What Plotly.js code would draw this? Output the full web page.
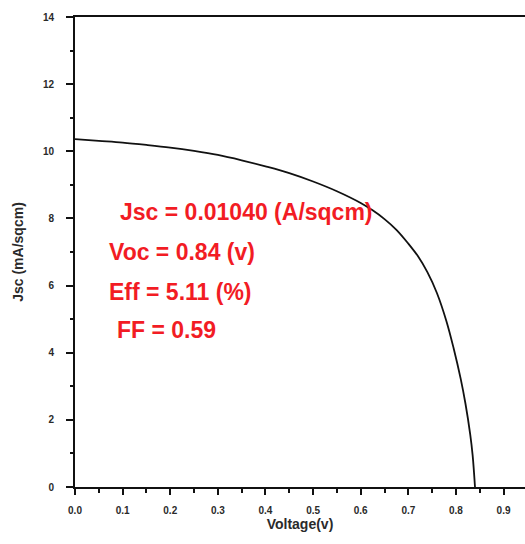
<!DOCTYPE html>
<html>
<head>
<meta charset="utf-8">
<script src="https://cdn.plot.ly/plotly-3.0.1.min.js"></script>
<style>html,body{margin:0;padding:0;background:#fff;}#chart{width:525px;height:544px;}</style>
</head>
<body>
<div id="chart"></div>
<script>
const voltage = [0, 0.05, 0.1, 0.15, 0.2, 0.25, 0.3, 0.35, 0.4, 0.45, 0.5, 0.55, 0.6, 0.625, 0.65, 0.675, 0.7, 0.72, 0.74, 0.76, 0.78, 0.795, 0.81, 0.82, 0.83, 0.835, 0.84];
const jsc = [10.36, 10.31, 10.26, 10.19, 10.11, 10.01, 9.89, 9.73, 9.55, 9.35, 9.10, 8.81, 8.46, 8.24, 7.98, 7.66, 7.25, 6.88, 6.40, 5.78, 4.94, 4.14, 3.22, 2.48, 1.56, 0.95, 0];
const xTicks = [0, 0.1, 0.2, 0.3, 0.4, 0.5, 0.6, 0.7, 0.8, 0.9];
const xTickLabels = ["0.0", "0.1", "0.2", "0.3", "0.4", "0.5", "0.6", "0.7", "0.8", "0.9"];
const yTicks = [0, 2, 4, 6, 8, 10, 12, 14];
const notes = ["Jsc = 0.01040 (A/sqcm)", "Voc = 0.84 (v)", "Eff = 5.11 (%)", "FF = 0.59"];
const noteX = [0.090, 0.068, 0.068, 0.084];
const noteY = [8.18, 7.0, 5.8, 4.67];

const textFont = {family: '"Liberation Sans", Arial, sans-serif', size: 23, color: '#f21c24', weight: 'bold'};
const tickFont = {family: '"Liberation Sans", Arial, sans-serif', size: 10, color: '#2a2a2a', weight: 'bold'};

const trace = {
  x: voltage, y: jsc, type: 'scatter', mode: 'lines',
  line: {color: '#111', width: 1.8, shape: 'spline', smoothing: 1},
  hoverinfo: 'skip'
};

const annotations = notes.map((t, i) => ({
  text: t, x: noteX[i], y: noteY[i], xref: 'x', yref: 'y',
  xanchor: 'left', yanchor: 'middle', showarrow: false, font: textFont
}));

const layout = {
  width: 525, height: 544,
  margin: {l: 75, r: 0, t: 17, b: 57, pad: 0},
  paper_bgcolor: '#fff', plot_bgcolor: '#fff',
  showlegend: false,
  xaxis: {
    range: [0, 0.945], showgrid: false, zeroline: false,
    showline: true, linecolor: '#111', linewidth: 2, mirror: true,
    tickmode: 'array', tickvals: xTicks, ticktext: xTickLabels,
    ticks: 'outside', ticklen: 6, tickwidth: 2, tickcolor: '#111',
    ticklabelstandoff: 7,
    minor: {dtick: 0.05, tick0: 0, ticks: 'outside', ticklen: 4, tickwidth: 2, tickcolor: '#111', showgrid: false},
    tickfont: tickFont,
    title: {text: 'Voltage(v)', font: {family: '"Liberation Sans", Arial, sans-serif', size: 14, color: '#2a2a2a', weight: 'bold'}, standoff: 4}
  },
  yaxis: {
    range: [0, 14], showgrid: false, zeroline: false,
    showline: true, linecolor: '#111', linewidth: 2,
    tickmode: 'array', tickvals: yTicks,
    ticks: 'outside', ticklen: 7, tickwidth: 2, tickcolor: '#111',
    ticklabelstandoff: 10,
    minor: {dtick: 1, tick0: 0, ticks: 'outside', ticklen: 3, tickwidth: 2, tickcolor: '#111', showgrid: false},
    tickfont: tickFont,
    title: {text: 'Jsc (mA/sqcm)', font: {family: '"Liberation Sans", Arial, sans-serif', size: 14, color: '#2a2a2a', weight: 'bold'}, standoff: 16}
  },
  annotations: annotations
};

Plotly.newPlot('chart', [trace], layout, {displayModeBar: false, staticPlot: true});
</script>
</body>
</html>
